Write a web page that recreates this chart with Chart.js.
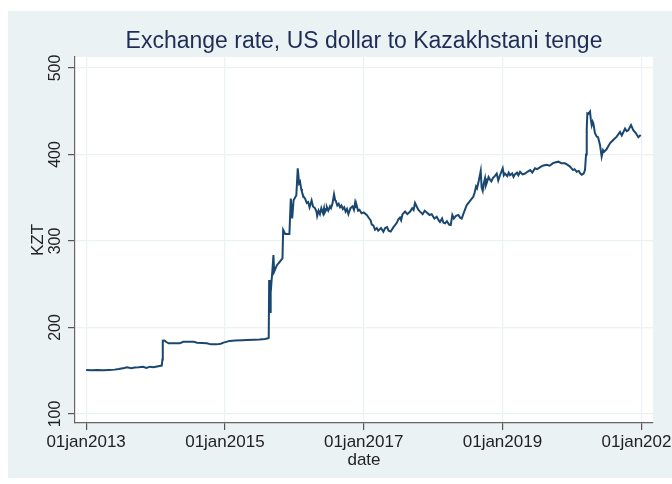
<!DOCTYPE html>
<html>
<head>
<meta charset="utf-8">
<script src="https://cdn.jsdelivr.net/npm/chart.js@4.4.1/dist/chart.umd.min.js"></script>
<style>
  html, body { margin: 0; padding: 0; background: #fff; overflow: hidden; }
  #wrap { width: 672px; height: 484px; overflow: hidden; }
</style>
</head>
<body>
<div id="wrap"><canvas id="fx" width="700" height="484"></canvas></div>
<script>
const chartTitle = 'Exchange rate, US dollar to Kazakhstani tenge';
const xTicks = [2013, 2015, 2017, 2019, 2021];
const yTicks = [100, 200, 300, 400, 500];

// decimal year of each reading
const years = [
  2013.00, 2013.08, 2013.16, 2013.25, 2013.33, 2013.41, 2013.47, 2013.55, 2013.59, 2013.65,
  2013.70, 2013.76, 2013.82, 2013.87, 2013.92, 2013.97, 2014.04, 2014.09, 2014.10, 2014.105,
  2014.13, 2014.15, 2014.19, 2014.27, 2014.35, 2014.40, 2014.47, 2014.55, 2014.60, 2014.67,
  2014.74, 2014.80, 2014.88, 2014.94, 2014.98, 2015.07, 2015.15, 2015.25, 2015.32, 2015.42,
  2015.50, 2015.58, 2015.62, 2015.632, 2015.638, 2015.645, 2015.652, 2015.66, 2015.672, 2015.685,
  2015.70, 2015.71, 2015.75, 2015.79, 2015.83, 2015.84, 2015.87, 2015.93, 2015.95, 2015.97,
  2015.99, 2016.03, 2016.05, 2016.06, 2016.069, 2016.083, 2016.10, 2016.11, 2016.13, 2016.156,
  2016.18, 2016.20, 2016.22, 2016.25, 2016.27, 2016.30, 2016.32, 2016.33, 2016.35, 2016.37,
  2016.39, 2016.415, 2016.43, 2016.44, 2016.46, 2016.47, 2016.49, 2016.516, 2016.53, 2016.55,
  2016.573, 2016.59, 2016.60, 2016.62, 2016.64, 2016.66, 2016.68, 2016.70, 2016.72, 2016.74,
  2016.76, 2016.78, 2016.81, 2016.84, 2016.86, 2016.876, 2016.89, 2016.90, 2016.92, 2016.94,
  2016.97, 2017.00, 2017.045, 2017.08, 2017.10, 2017.117, 2017.14, 2017.164, 2017.19, 2017.21,
  2017.25, 2017.284, 2017.31, 2017.337, 2017.36, 2017.39, 2017.43, 2017.45, 2017.477, 2017.50,
  2017.524, 2017.54, 2017.56, 2017.597, 2017.63, 2017.67, 2017.70, 2017.72, 2017.74, 2017.77,
  2017.79, 2017.813, 2017.85, 2017.88, 2017.91, 2017.95, 2017.98, 2018.02, 2018.053, 2018.08,
  2018.10, 2018.13, 2018.15, 2018.173, 2018.20, 2018.23, 2018.255, 2018.278, 2018.30, 2018.33,
  2018.365, 2018.39, 2018.413, 2018.44, 2018.486, 2018.52, 2018.55, 2018.58, 2018.60, 2018.62,
  2018.634, 2018.66, 2018.687, 2018.70, 2018.716, 2018.73, 2018.749, 2018.76, 2018.778, 2018.80,
  2018.821, 2018.84, 2018.865, 2018.89, 2018.918, 2018.94, 2018.965, 2019.004, 2019.02, 2019.037,
  2019.07, 2019.09, 2019.11, 2019.14, 2019.16, 2019.18, 2019.21, 2019.23, 2019.254, 2019.29,
  2019.326, 2019.36, 2019.40, 2019.43, 2019.47, 2019.50, 2019.54, 2019.58, 2019.638, 2019.68,
  2019.73, 2019.77, 2019.806, 2019.85, 2019.90, 2019.94, 2019.974, 2020.017, 2020.04, 2020.07,
  2020.10, 2020.118, 2020.143, 2020.17, 2020.19, 2020.205, 2020.215, 2020.224, 2020.24, 2020.262,
  2020.275, 2020.287, 2020.30, 2020.31, 2020.334, 2020.36, 2020.378, 2020.406, 2020.43, 2020.45,
  2020.464, 2020.50, 2020.55, 2020.60, 2020.647, 2020.695, 2020.72, 2020.767, 2020.79, 2020.814,
  2020.853, 2020.87, 2020.886, 2020.925, 2020.958, 2020.993
];

// tenge per US dollar
const kzt = [
  150.9, 150.6, 150.8, 150.6, 150.9, 151.3, 152.0, 153.2, 154.0, 153.0,
  153.8, 154.0, 154.6, 153.2, 154.7, 154.0, 155.3, 156.0, 163.0, 184.7,
  185.0, 183.5, 181.7, 181.9, 181.7, 183.5, 183.4, 183.5, 182.5, 182.2,
  181.7, 180.5, 180.5, 181.2, 182.5, 184.5, 185.0, 185.4, 185.5, 185.8,
  186.0, 186.8, 187.5, 188.0, 255.0, 235.0, 218.0, 240.0, 253.0, 266.0,
  283.8, 264.5, 272.0, 276.0, 280.0, 312.7, 308.0, 308.0, 349.0, 326.0,
  347.0, 353.0, 384.0, 376.0, 366.7, 368.6, 360.0, 357.0, 352.0, 349.0,
  344.0, 345.0, 339.0, 347.0, 340.0, 337.8, 334.0, 329.0, 335.0, 331.0,
  338.0, 332.0, 338.0, 333.0, 336.0, 339.0, 335.0, 340.0, 338.0, 343.0,
  354.0, 347.0, 346.0, 341.0, 343.0, 339.0, 341.0, 337.0, 339.0, 334.0,
  337.0, 331.0, 338.0, 340.0, 336.0, 344.0, 339.0, 341.0, 335.0, 336.0,
  332.0, 333.0, 330.0, 326.0, 324.0, 319.0, 318.0, 313.0, 315.0, 312.0,
  315.0, 310.7, 315.0, 316.0, 312.0, 311.0, 316.0, 318.0, 321.0, 325.0,
  327.0, 324.0, 331.0, 334.0, 331.0, 334.0, 338.0, 336.0, 344.0, 339.0,
  336.0, 334.0, 331.0, 335.0, 333.0, 330.0, 331.0, 326.0, 328.0, 324.0,
  322.0, 326.0, 321.0, 320.4, 323.0, 319.0, 318.5, 330.0, 326.0, 329.0,
  330.0, 327.0, 326.0, 332.0, 341.6, 345.0, 348.0, 351.0, 356.0, 363.0,
  361.0, 370.0, 381.0, 362.0, 358.0, 366.0, 372.5, 364.0, 368.0, 374.0,
  371.0, 369.0, 373.0, 375.0, 378.0, 370.0, 376.0, 384.0, 376.0, 378.0,
  375.0, 379.0, 376.0, 378.0, 374.0, 377.0, 379.0, 376.0, 380.0, 377.0,
  378.0, 380.0, 382.0, 379.0, 384.0, 383.0, 385.0, 387.0, 388.0, 387.0,
  390.0, 391.0, 391.7, 390.0, 389.8, 388.0, 386.0, 382.0, 383.0, 380.0,
  381.0, 378.6, 376.7, 378.0, 382.0, 400.0, 430.0, 447.6, 447.0, 449.6,
  440.0, 434.0, 438.0, 436.0, 424.5, 420.6, 420.0, 411.0, 397.5, 405.0,
  403.0, 406.0, 413.0, 417.0, 420.6, 426.0, 422.0, 430.0, 427.0, 428.0,
  434.0, 431.0, 428.0, 424.5, 420.0, 422.5
];

const bgColor = '#eaf2f3';
const inkColor = '#1a476f';

const backdrop = {
  id: 'backdrop',
  beforeDraw(chart) {
    const { ctx, chartArea: a } = chart;
    ctx.save();
    ctx.fillStyle = '#fff';
    ctx.fillRect(0, 0, chart.width, chart.height);
    ctx.fillStyle = bgColor;
    ctx.fillRect(8, 11, chart.width - 8, 467);
    ctx.fillStyle = '#fff';
    ctx.fillRect(a.left, a.top, a.right - a.left, a.bottom - a.top);
    ctx.restore();
  },
  afterDraw(chart) {
    const { ctx, chartArea: a } = chart;
    const y = chart.scales.y;
    ctx.save();
    ctx.fillStyle = '#1f2d56';
    ctx.font = '23px "Liberation Sans", Arial, sans-serif';
    ctx.textAlign = 'center';
    ctx.textBaseline = 'middle';
    ctx.fillText(chartTitle, (a.left + a.right) / 2, 42);

    // rotated y tick labels, Stata style
    ctx.fillStyle = '#222';
    ctx.font = '16px "Liberation Sans", Arial, sans-serif';
    yTicks.forEach(v => {
      ctx.save();
      ctx.translate(56, y.getPixelForValue(v));
      ctx.rotate(-Math.PI / 2);
      ctx.fillText(String(v), 0, 0);
      ctx.restore();
    });
    ctx.restore();
  }
};

new Chart(document.getElementById('fx'), {
  type: 'line',
  data: {
    datasets: [{
      label: 'KZT',
      data: years.map((x, i) => ({ x: x, y: kzt[i] })),
      borderColor: inkColor,
      borderWidth: 2,
      pointRadius: 0,
      fill: false,
      tension: 0
    }]
  },
  options: {
    responsive: false,
    animation: false,
    layout: { padding: { top: 57, right: 47, bottom: 0, left: 0 } },
    plugins: {
      legend: { display: false },
      tooltip: { enabled: false }
    },
    scales: {
      x: {
        type: 'linear',
        min: 2012.84,
        max: 2021.17,
        afterBuildTicks: s => { s.ticks = xTicks.map(v => ({ value: v })); },
        afterFit: s => { s.height = 61; },
        ticks: {
          callback: v => '01jan' + v,
          color: '#222',
          font: { family: '"Liberation Sans", Arial, sans-serif', size: 17 },
          padding: 2,
          maxRotation: 0,
          autoSkip: false
        },
        grid: { color: bgColor, lineWidth: 1.2, tickColor: '#555', tickLength: 7 },
        border: { color: '#666', width: 1.2 },
        title: {
          display: true,
          text: 'date',
          color: '#222',
          font: { family: '"Liberation Sans", Arial, sans-serif', size: 17 },
          padding: { top: 0, bottom: 13 }
        }
      },
      y: {
        type: 'linear',
        min: 89.6,
        max: 512.7,
        afterBuildTicks: s => { s.ticks = yTicks.map(v => ({ value: v })); },
        afterFit: s => { s.width = 75; },
        ticks: { display: false },
        grid: { color: bgColor, lineWidth: 1.2, tickColor: '#555', tickLength: 7 },
        border: { color: '#666', width: 1.2 },
        title: {
          display: true,
          text: 'KZT',
          color: '#222',
          font: { family: '"Liberation Sans", Arial, sans-serif', size: 17 },
          padding: { top: 28, bottom: 0 }
        }
      }
    }
  },
  plugins: [backdrop]
});
</script>
</body>
</html>
